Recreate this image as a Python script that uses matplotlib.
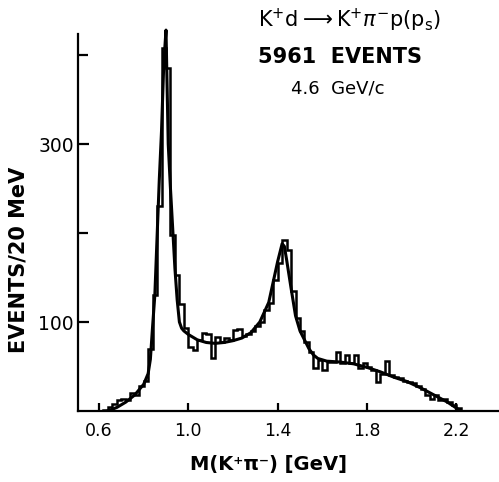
import numpy as np
import matplotlib
matplotlib.use("Agg")
import matplotlib.pyplot as plt

plt.rcParams['mathtext.fontset'] = 'dejavusans'

# histogram: 20 MeV bins from 0.62 to 2.22 GeV
bin_lo = 0.62
bin_w = 0.02
counts = [1, 4, 8, 12, 14, 12, 20, 18, 28, 34,
          70, 130, 230, 408, 385, 198, 153, 120, 93, 72,
          68, 80, 88, 86, 60, 83, 78, 82, 80, 91,
          92, 84, 86, 90, 96, 100, 113, 121, 147, 166,
          192, 181, 135, 105, 90, 78, 66, 48, 57, 46,
          55, 55, 66, 54, 63, 54, 63, 48, 54, 50,
          46, 33, 42, 56, 40, 38, 37, 34, 33, 31,
          28, 25, 18, 13, 18, 12, 14, 10, 7, 3]

# fitted curve
fit_m = [0.64, 0.68, 0.72, 0.76, 0.80, 0.82, 0.83, 0.84, 0.85, 0.86,
         0.87, 0.88, 0.89, 0.90, 0.91, 0.92, 0.93, 0.94, 0.95, 0.96,
         0.97, 0.98, 1.00, 1.04, 1.08, 1.12, 1.16, 1.20, 1.24, 1.28,
         1.32, 1.36, 1.38, 1.40, 1.42, 1.43, 1.44, 1.46, 1.48, 1.50,
         1.52, 1.54, 1.56, 1.58, 1.62, 1.68, 1.74, 1.80, 1.86, 1.92,
         1.98, 2.04, 2.10, 2.16, 2.22]
fit_n = [0, 4, 10, 18, 30, 42, 58, 95, 130, 195,
         260, 315, 390, 428, 300, 250, 205, 160, 125, 100,
         93, 90, 86, 80, 77, 76, 77, 79, 82, 88,
         100, 122, 145, 168, 188, 185, 170, 138, 107, 90,
         80, 70, 63, 59, 56, 55, 53, 49, 44, 38,
         33, 26, 18, 10, 0]

xticks = [0.6, 1.0, 1.4, 1.8, 2.2]
xticklabels = ['0.6', '1.0', '1.4', '1.8', '2.2']

fig = plt.figure(figsize=(4.99, 4.82), dpi=100)
ax = fig.add_axes([78/499, 71/482, 421/499, 391.6/482])

edges = bin_lo + bin_w * np.arange(len(counts) + 1)
ax.stairs(counts, edges, color='black', linewidth=1.8)
ax.plot(fit_m, fit_n, color='black', linewidth=2.2)

ax.set_xlim(0.506, 2.391)
ax.set_ylim(0, 440)

for s in ['top', 'right']:
    ax.spines[s].set_visible(False)
for s in ['left', 'bottom']:
    ax.spines[s].set_linewidth(1.6)
ax.spines['left'].set_bounds(0, 424)

ax.set_xticks(xticks)
ax.set_xticklabels(xticklabels)
ax.tick_params(axis='x', direction='in', length=6, width=1.6, pad=8, labelsize=12.5)
ax.set_yticks([100, 300])
ax.set_yticklabels(['100', '300'])
ax.set_yticks([200, 400], minor=True)
ax.tick_params(axis='y', which='major', direction='in', length=8, width=1.6, pad=3, labelsize=13.5)
ax.tick_params(axis='y', which='minor', direction='in', length=7, width=1.6)

ax.set_xlabel('M(K⁺π⁻) [GeV]', fontsize=14, fontweight='bold')
ax.xaxis.set_label_coords((268 - 78) / 421, -0.112)
ax.set_ylabel('EVENTS/20 MeV', fontsize=15, fontweight='bold')
ax.yaxis.set_label_coords(-0.118, 0.386)

fig.text(0.70, 0.958, r'K$^{+}$d$\longrightarrow$K$^{+}\pi^{-}$p(p$_{\rm s}$)',
         ha='center', va='center', fontsize=15)
fig.text(0.682, 0.882, '5961  EVENTS', ha='center', va='center',
         fontsize=15, fontweight='bold')
fig.text(0.676, 0.817, '4.6  GeV/c', ha='center', va='center', fontsize=13)

fig.savefig('out.png', dpi=100)
